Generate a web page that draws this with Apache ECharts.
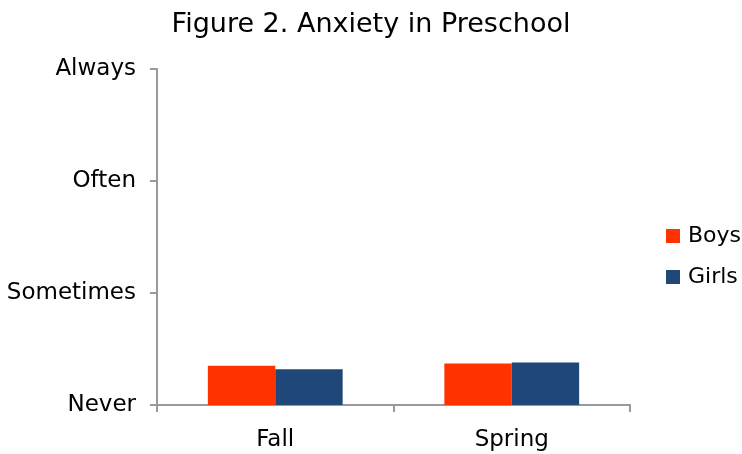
<!DOCTYPE html>
<html>
<head>
<meta charset="utf-8">
<script src="https://cdn.jsdelivr.net/npm/echarts@6/dist/echarts.min.js"></script>
<style>
  html, body { margin: 0; padding: 0; background: #fff; }
  #main { width: 742px; height: 454px; }
</style>
</head>
<body>
<div id="main"></div>
<script>
const seasons = ['Fall', 'Spring']
const boys = [1.35, 1.37]
const girls = [1.32, 1.38]
// 1 = Never ... 4 = Always
const levels = ['Never', 'Sometimes', 'Often', 'Always']

const chart = echarts.init(document.getElementById('main'))
const axisColor = '#999999'
const font = 'DejaVu Sans'

chart.setOption({
  animation: false,
  title: {
    text: 'Figure 2. Anxiety in Preschool',
    left: 'center',
    top: 6,
    textStyle: { fontFamily: font, fontSize: 27, fontWeight: 'normal', color: '#000' },
  },
  legend: {
    orient: 'vertical',
    left: 661,
    top: 220,
    itemWidth: 14,
    itemHeight: 14,
    itemGap: 19,
    icon: 'rect',
    textStyle: { fontFamily: font, fontSize: 22, color: '#000', padding: [0, 0, 0, 3] },
    data: ['Boys', 'Girls'],
  },
  grid: {
    left: 157,
    right: 112,
    top: 69,
    bottom: 49,
  },
  xAxis: {
    type: 'category',
    data: seasons,
    axisLine: { lineStyle: { color: axisColor, width: 2 } },
    axisTick: { show: true, length: 7, lineStyle: { color: axisColor, width: 2 } },
    axisLabel: { fontFamily: font, fontSize: 23, color: '#000', margin: 24 },
  },
  yAxis: {
    type: 'value',
    min: 1,
    max: 4,
    interval: 1,
    splitLine: { show: false },
    axisLine: { show: true, lineStyle: { color: axisColor, width: 2 } },
    axisTick: { show: true, length: 7, lineStyle: { color: axisColor, width: 2 } },
    axisLabel: {
      fontFamily: font,
      fontSize: 23,
      color: '#000',
      margin: 21,
      formatter: function (v) { return levels[Math.round(v) - 1] || '' },
    },
  },
  series: [
    {
      name: 'Boys',
      type: 'bar',
      data: boys,
      barWidth: '28.5%',
      barGap: 0,
      itemStyle: { color: '#FF3300' },
    },
    {
      name: 'Girls',
      type: 'bar',
      data: girls,
      barWidth: '28.5%',
      itemStyle: { color: '#1F4778' },
    },
  ],
})
</script>
</body>
</html>
